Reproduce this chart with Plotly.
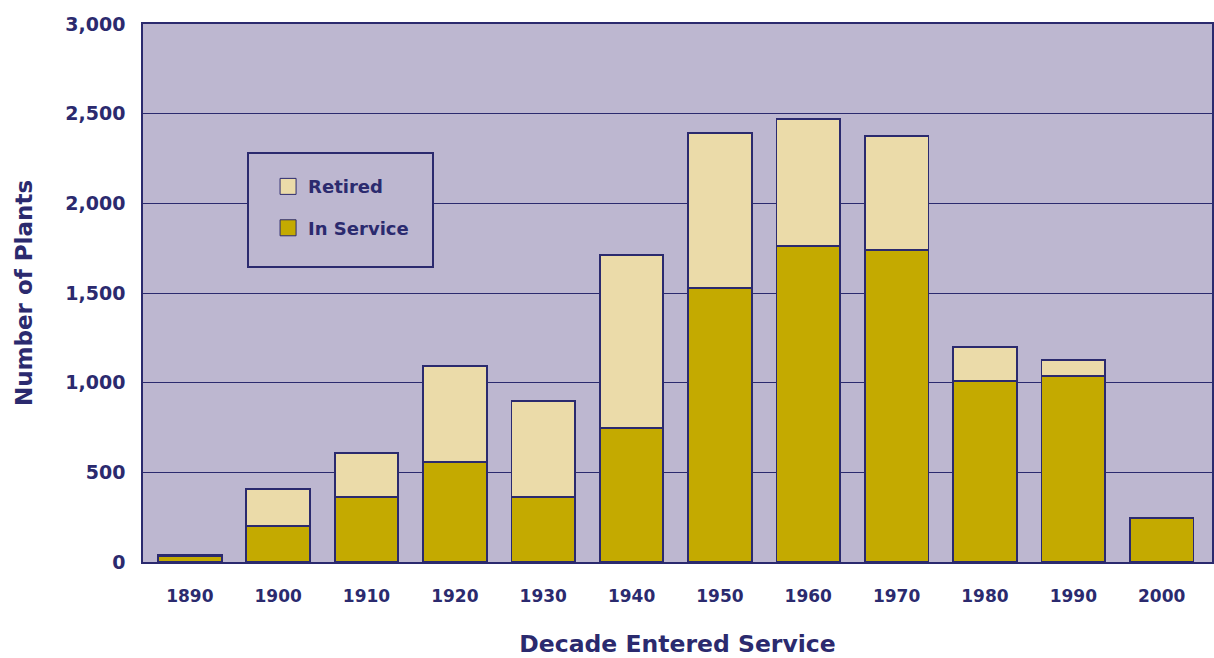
import plotly.graph_objects as go

decades = ["1890", "1900", "1910", "1920", "1930", "1940", "1950", "1960", "1970", "1980", "1990", "2000"]
in_service = [32, 201, 362, 558, 362, 747, 1528, 1762, 1740, 1009, 1037, 245]
retired = [8, 206, 246, 535, 536, 965, 864, 708, 635, 190, 89, 0]
y_ticks = [0, 500, 1000, 1500, 2000, 2500, 3000]
y_tick_labels = ["0", "500", "1,000", "1,500", "2,000", "2,500", "3,000"]

NAVY = "#2B2A6E"
BG = "#BDB7D0"
GOLD = "#C4AA00"
CREAM = "#EBDBA9"
FONT = "DejaVu Sans"

fig = go.Figure()
fig.add_trace(go.Bar(x=decades, y=in_service, name="In Service", marker=dict(color=GOLD, line=dict(color=NAVY, width=1.8)),
                     width=0.72, showlegend=False))
fig.add_trace(go.Bar(x=decades, y=retired, name="Retired", marker=dict(color=CREAM, line=dict(color=NAVY, width=1.8)),
                     width=0.72, showlegend=False))
# legend entries
fig.add_trace(go.Scatter(x=[None], y=[None], mode="markers", name="Retired", legendgroup="a",
                         marker=dict(symbol="square", size=24, color=CREAM, line=dict(color=NAVY, width=1))))
fig.add_trace(go.Scatter(x=[None], y=[None], mode="markers", name="In Service", legendgroup="b",
                         marker=dict(symbol="square", size=24, color=GOLD, line=dict(color=NAVY, width=1))))

fig.update_layout(
    width=1214, height=658,
    barmode="stack",
    paper_bgcolor="white", plot_bgcolor=BG,
    margin=dict(l=143, r=2, t=24, b=96, autoexpand=False),
    font=dict(family=FONT, color=NAVY),
    showlegend=True,
    legend=dict(x=0.117, y=0.732, xanchor="left", yanchor="top", bgcolor="rgba(0,0,0,0)", borderwidth=0,
                traceorder="grouped", font=dict(size=18, color=NAVY, weight="bold"), tracegroupgap=15, itemwidth=30),
    shapes=[dict(type="rect", xref="paper", yref="paper", x0=(248-143)/1069, x1=(433-143)/1069,
                 y0=(562-267)/538, y1=(562-153)/538, fillcolor=BG, line=dict(color=NAVY, width=2), layer="above")],
    xaxis=dict(range=[-0.53, 11.57], showline=True, mirror=True, linecolor=NAVY, linewidth=1.5, automargin=False,
               tickfont=dict(size=17, color=NAVY, weight="bold"), ticks="", ticklabelstandoff=18,
               title=dict(text="Decade Entered Service", font=dict(size=23.5, color=NAVY, weight="bold"), standoff=31)),
    yaxis=dict(range=[0, 3000], tickvals=y_ticks, ticktext=y_tick_labels, showline=True, mirror=True, automargin=False,
               linecolor=NAVY, linewidth=1.5, gridcolor=NAVY, gridwidth=1.2, zeroline=False,
               tickfont=dict(size=19, color=NAVY, weight="bold"), ticks="", ticklabelstandoff=12,
               title=dict(text="Number of Plants", font=dict(size=23, color=NAVY, weight="bold"), standoff=26)),
)
fig.write_html("out.html", config={"displayModeBar": False},
               post_script="document.body.style.margin='0';document.body.style.overflow='hidden';")
